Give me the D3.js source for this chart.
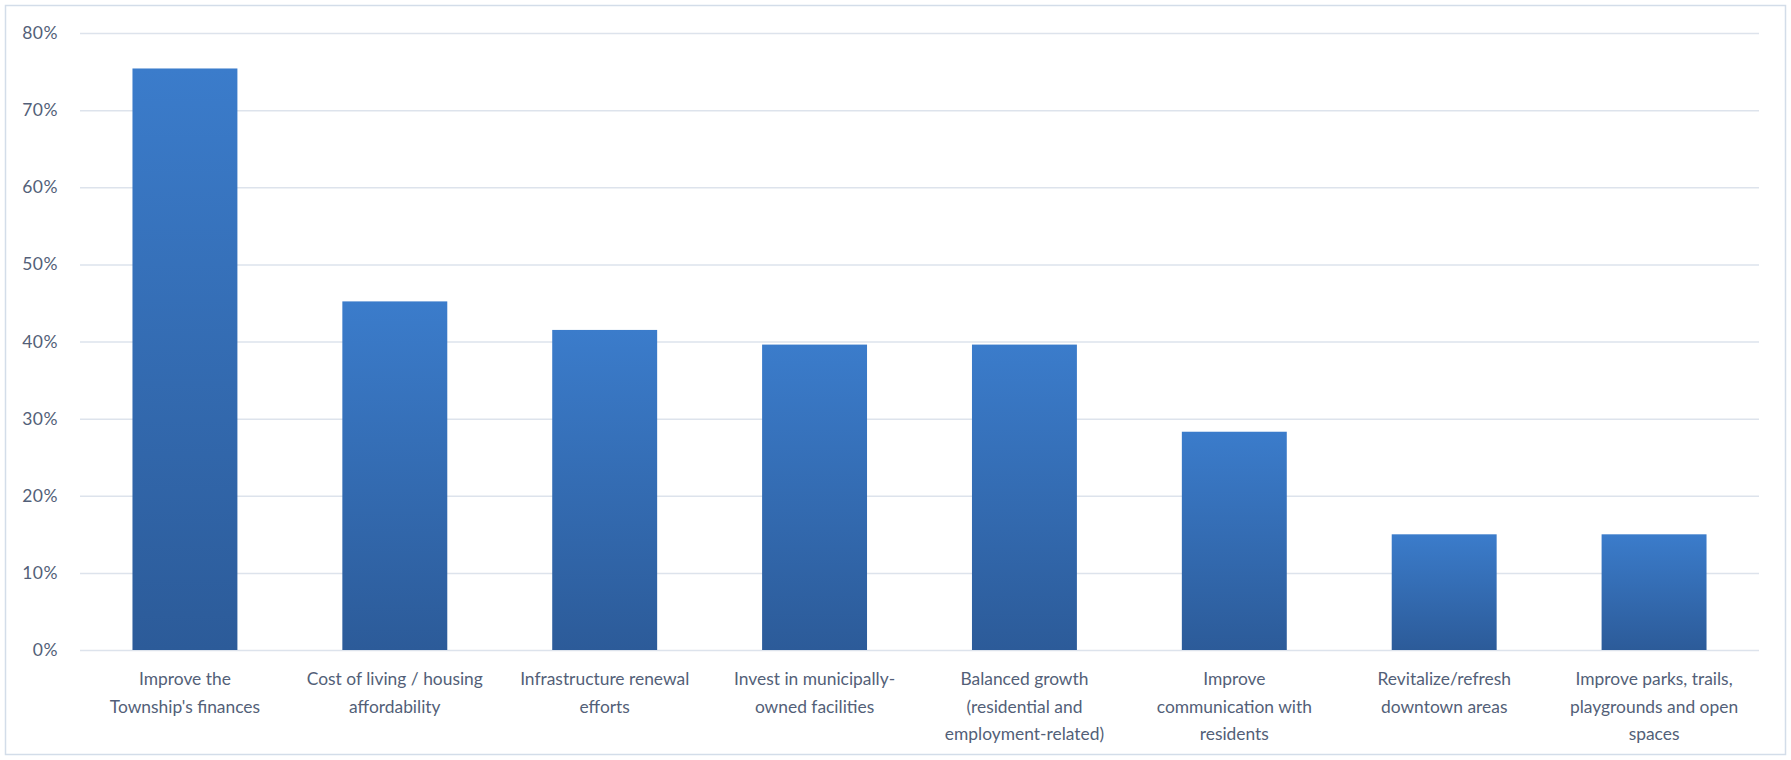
<!DOCTYPE html>
<html>
<head>
<meta charset="utf-8">
<script src="https://cdn.jsdelivr.net/npm/d3@7"></script>
<style>
  html, body { margin: 0; padding: 0; background: #fff; }
  svg text { font-family: Lato, "Open Sans", sans-serif; }
</style>
</head>
<body>
<svg id="chart" width="1791" height="760"></svg>
<script>
// Priorities and share of respondents selecting each one
const categories = [
  "Improve the Township's finances",
  "Cost of living / housing affordability",
  "Infrastructure renewal efforts",
  "Invest in municipally-owned facilities",
  "Balanced growth (residential and employment-related)",
  "Improve communication with residents",
  "Revitalize/refresh downtown areas",
  "Improve parks, trails, playgrounds and open spaces"
];
// Wrapped axis label lines for each category
const labelLines = [
  ["Improve the", "Township's finances"],
  ["Cost of living / housing", "affordability"],
  ["Infrastructure renewal", "efforts"],
  ["Invest in municipally-", "owned facilities"],
  ["Balanced growth", "(residential and", "employment-related)"],
  ["Improve", "communication with", "residents"],
  ["Revitalize/refresh", "downtown areas"],
  ["Improve parks, trails,", "playgrounds and open", "spaces"]
];
const values = [0.754, 0.452, 0.415, 0.396, 0.396, 0.283, 0.150, 0.150];
const yTicks = [0, 0.1, 0.2, 0.3, 0.4, 0.5, 0.6, 0.7, 0.8];

const svg = d3.select("#chart");
const W = 1791, H = 760;
const plot = { left: 80, right: 1759, top: 33, bottom: 650 };

// Outer chart frame
svg.append("rect")
  .attr("x", 5.5).attr("y", 5.5)
  .attr("width", W - 11).attr("height", H - 11)
  .attr("fill", "#fff")
  .attr("stroke", "#d3dde9").attr("stroke-width", 1.5);

const x = d3.scaleBand()
  .domain(categories)
  .range([plot.left, plot.right])
  .paddingInner(0.5)
  .paddingOuter(0.25);

const y = d3.scaleLinear()
  .domain([0, 0.8])
  .range([plot.bottom, plot.top]);

// Bar gradient, lighter at the top
const defs = svg.append("defs");
const grad = defs.append("linearGradient")
  .attr("id", "barGrad")
  .attr("x1", 0).attr("y1", 0).attr("x2", 0).attr("y2", 1);
grad.append("stop").attr("offset", "0%").attr("stop-color", "#3b7ccb");
grad.append("stop").attr("offset", "100%").attr("stop-color", "#2c5b99");

// Horizontal gridlines
const yAxis = d3.axisLeft(y)
  .tickValues(yTicks)
  .tickFormat(d3.format(".0%"))
  .tickSize(-(plot.right - plot.left))
  .tickPadding(22);

const gy = svg.append("g")
  .attr("transform", `translate(${plot.left},0)`)
  .call(yAxis);
gy.select(".domain").remove();
gy.selectAll(".tick line")
  .attr("stroke", "#dde3ec")
  .attr("stroke-width", 1.5);
gy.selectAll(".tick text")
  .attr("fill", "#535f78")
  .attr("font-size", 17.5)
  .attr("letter-spacing", 0.5);

// Bars
svg.append("g")
  .selectAll("rect")
  .data(values)
  .join("rect")
  .attr("x", (d, i) => x(categories[i]))
  .attr("y", d => y(d))
  .attr("width", x.bandwidth())
  .attr("height", d => y(0) - y(d))
  .attr("fill", "url(#barGrad)");

// Category labels
const xAxis = d3.axisBottom(x).tickSize(0).tickFormat("");
const gx = svg.append("g")
  .attr("transform", `translate(0,${plot.bottom})`)
  .call(xAxis);
gx.select(".domain").remove();

gx.selectAll(".tick").each(function(d, i) {
  const t = d3.select(this).append("text")
    .attr("fill", "#535f78")
    .attr("font-size", 17.4)
    .attr("text-anchor", "middle")
    .attr("y", 35);
  labelLines[i].forEach((line, j) => {
    t.append("tspan")
      .attr("x", 0)
      .attr("dy", j === 0 ? 0 : 27.5)
      .text(line);
  });
});
</script>
</body>
</html>
